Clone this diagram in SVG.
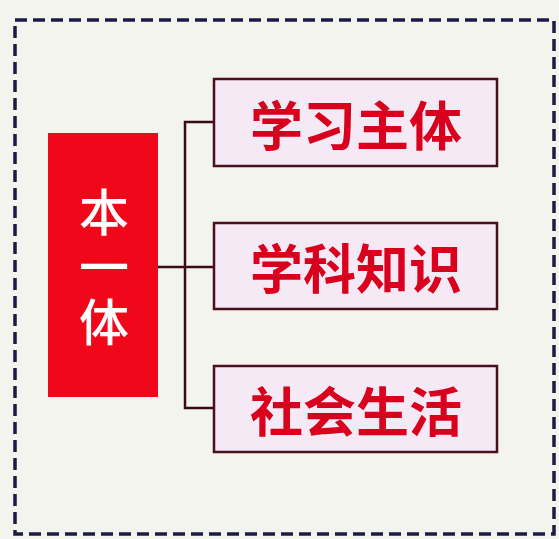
<svg xmlns="http://www.w3.org/2000/svg" width="559" height="539" viewBox="0 0 559 539">
<style>
.box{fill:#f6e9f6;stroke:#4a0f1c;stroke-width:2.5}
.lbl{font-family:"Noto Sans CJK SC","Noto Sans CJK TC",sans-serif;font-weight:700;font-size:53px;fill:#d8001c;text-anchor:middle;dominant-baseline:central}
.main{font-family:"Noto Sans CJK SC",sans-serif;font-weight:500;font-size:50px;fill:#ffffff;text-anchor:middle;writing-mode:vertical-rl;letter-spacing:5px}
.conn{fill:none;stroke:#3a0a14;stroke-width:2.5}
</style>
<rect x="0" y="0" width="559" height="539" fill="#f4f4ef"/>
<rect x="15" y="20" width="539" height="514" fill="none" stroke="#1b1b45" stroke-width="3.5" stroke-dasharray="12,6"/>
<g id="connectors">
<polyline class="conn" points="214,122 185,122 185,408 214,408"/>
<line class="conn" x1="158" y1="267" x2="214" y2="267"/>
</g>
<g id="root">
<rect x="48" y="133" width="110" height="264" fill="#f1071a"/>
<text class="main" x="104" y="269">本一体</text>
</g>
<g id="n1">
<rect class="box" x="214" y="79" width="283" height="87"/>
<text class="lbl" x="356" y="123">学习主体</text>
</g>
<g id="n2">
<rect class="box" x="214" y="223" width="283" height="86"/>
<text class="lbl" x="356" y="266">学科知识</text>
</g>
<g id="n3">
<rect class="box" x="214" y="366" width="283" height="86"/>
<text class="lbl" x="356" y="409">社会生活</text>
</g>
</svg>
